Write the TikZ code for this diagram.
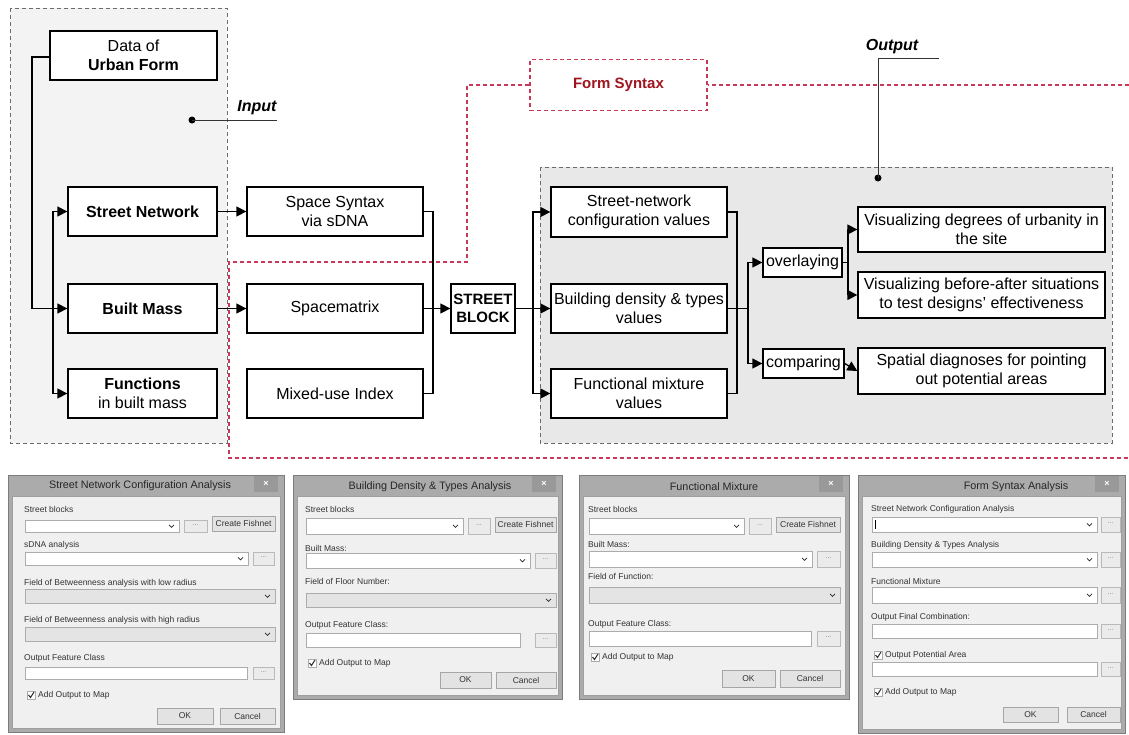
\documentclass[tikz,border=0pt]{standalone}
\usepackage{fontspec}
\setmainfont{Liberation Sans}
\usetikzlibrary{arrows.meta}
\definecolor{reddash}{HTML}{C8385A}
\definecolor{fsred}{HTML}{A0141E}
\definecolor{inbg}{HTML}{F3F3F3}
\definecolor{outbg}{HTML}{E8E8E8}
\definecolor{framec}{HTML}{ABABAB}
\definecolor{framedk}{HTML}{7C7C7C}
\definecolor{bodyc}{HTML}{F0F0F0}
\definecolor{dtxt}{HTML}{333333}
\definecolor{closebg}{HTML}{999999}
\definecolor{gfield}{HTML}{E4E4E4}
\definecolor{btnc}{HTML}{E3E3E3}

\newcommand{\rsWin}[5]{%
  \fill[framec] (#2,#3) rectangle (#4,#5);
  \draw[framedk, line width=0.6pt] (#2,#3) rectangle (#4,#5);
  \fill[bodyc] (#2+4,#3+21) rectangle (#4-4,#5-4);
  \draw[gray!75, line width=0.4pt] (#2+4,#3+21) rectangle (#4-4,#5-4);
  \fill[closebg] (#4-30,#3+1) rectangle (#4-6,#3+17);
  \node[text=white, inner sep=0pt, font=\fontsize{9}{9}\selectfont\bfseries] (#1) at (#4-18,#3+9) {×};
}
\newcommand{\rsLab}[4]{\node[dlab] (#1) at (#2,#3) {#4};}
\newcommand{\rsCombo}[4]{%
  \draw[field] (#1,#2) rectangle (#3,#4);
  \draw[chev] (#3-10,{(#2+#4)/2-1.2}) -- (#3-7.5,{(#2+#4)/2+1.3}) -- (#3-5,{(#2+#4)/2-1.2});
}
\newcommand{\rsGCombo}[4]{%
  \draw[field, fill=gfield] (#1,#2) rectangle (#3,#4);
  \draw[chev] (#3-10,{(#2+#4)/2-1.2}) -- (#3-7.5,{(#2+#4)/2+1.3}) -- (#3-5,{(#2+#4)/2-1.2});
}
\newcommand{\rsTextBox}[4]{\draw[field] (#1,#2) rectangle (#3,#4);}
\newcommand{\rsDots}[5]{%
  \draw[dotbtn] (#2,#3) rectangle (#4,#5);
  \node[dotstxt] (#1) at ({(#2+#4)/2},{(#3+#5)/2-1}) {...};
}
\newcommand{\rsBtn}[6]{%
  \draw[btn] (#2,#3) rectangle (#4,#5);
  \node[btntxt] (#1) at ({(#2+#4)/2},{(#3+#5)/2}) {#6};
}
\newcommand{\rsCheck}[4]{%
  \draw[field, fill=white] (#2,#3-4) rectangle (#2+8,#3+4);
  \draw[line width=1pt, black!85] (#2+1.5,#3) -- (#2+3.5,#3+2.5) -- (#2+7,#3-3);
  \node[dlab] (#1) at (#2+11,#3) {#4};
}

\begin{document}
\begin{tikzpicture}[x=1pt,y=-1pt,
  box/.style={draw, line width=1.3pt, fill=white, align=center, inner sep=0pt,
     font=\fontsize{16}{19}\selectfont},
  conn/.style={line width=1.3pt, black},
  arr/.style={conn, -{Triangle[length=10pt,width=10pt]}},
  region/.style={draw=gray!85!black, line width=0.8pt, dash pattern=on 4pt off 3pt},
  rdash/.style={draw=reddash, line width=1.2pt, dash pattern=on 4pt off 3pt},
  dot/.style={circle, fill=black, inner sep=0pt, minimum size=7pt},
  ptr/.style={line width=0.9pt, gray!40!black},
  lab/.style={font=\fontsize{16}{18}\selectfont\bfseries\itshape, inner sep=0pt},
  dlab/.style={anchor=west, inner sep=0pt, font=\fontsize{8.5}{9}\selectfont, text=dtxt},
  dtitle/.style={inner sep=0pt, font=\fontsize{10.8}{11}\selectfont, text=black!85},
  field/.style={draw=gray!65, line width=0.5pt, fill=white},
  chev/.style={line width=0.7pt, gray!30!black},
  dotbtn/.style={draw=gray!55, line width=0.5pt, fill=btnc!70!white},
  dotstxt/.style={inner sep=0pt, font=\fontsize{7}{7}\selectfont, text=gray},
  btn/.style={draw=gray!70, line width=0.6pt, fill=btnc},
  btntxt/.style={inner sep=0pt, font=\fontsize{8.5}{9}\selectfont, text=dtxt}
]
\fill[white] (0,0) rectangle (1129,734);
\useasboundingbox (0,0) rectangle (1129,734);

% regions
\draw[region, fill=inbg] (10,8) rectangle (227,443);
\draw[region, fill=outbg] (540,167) rectangle (1112,443);

% form syntax (red)
\node[rdash, minimum width=177pt, minimum height=51pt, inner sep=0pt,
  font=\fontsize{15}{17}\selectfont\bfseries, text=fsred] (fs) at (618.5,85) {Form Syntax};
\coordinate (rA) at (1129,85);
\coordinate (rB) at (467,85);
\coordinate (rC) at (467,262);
\coordinate (rD) at (229,262);
\coordinate (rE) at (229,458);
\coordinate (rF) at (1129,458);
\draw[rdash] (rA) -- (fs.east);
\draw[rdash] (fs.west) -- (rB) -- (rC) -- (rD) -- (rE) -- (rF);

% input / output labels
\node[dot] (indot) at (192,120) {};
\coordinate (inend) at (277,120);
\draw[ptr] (indot.center) -- (inend);
\node[lab] (inlab) at (257,108) {Input};
\node[dot] (outdot) at (878,178) {};
\coordinate (outc) at (878,58);
\coordinate (outend) at (939,58);
\draw[ptr] (outdot.center) -- (outc) -- (outend);
\node[lab] (outlab) at (892,47) {Output};

% input column
\node[box, minimum width=167pt, minimum height=49pt] (data) at (133.5,55.5) {Data of\\\textbf{Urban Form}};
\node[box, minimum width=149pt, minimum height=49pt] (sn) at (142.5,211.5) {\textbf{Street Network}};
\node[box, minimum width=149pt, minimum height=49pt] (bm) at (142.5,308.5) {\textbf{Built Mass}};
\node[box, minimum width=149pt, minimum height=49pt] (fn) at (142.5,393.5) {\textbf{Functions}\\in built mass};

% methods column
\node[box, minimum width=176pt, minimum height=49pt] (ss) at (335,211.5) {Space Syntax\\via sDNA};
\node[box, minimum width=176pt, minimum height=49pt] (sm) at (335,308.5) {Spacematrix};
\node[box, minimum width=176pt, minimum height=49pt] (mu) at (335,393.5) {Mixed-use Index};
\node[box, minimum width=64pt, minimum height=49pt, font=\fontsize{15}{18}\selectfont] (sb) at (483,308.5) {\textbf{STREET}\\\textbf{BLOCK}};

% values column
\node[box, minimum width=176pt, minimum height=50pt] (snv) at (639,212) {Street-network\\configuration values};
\node[box, minimum width=176pt, minimum height=49pt] (bdv) at (639,308.5) {Building density \& types\\values};
\node[box, minimum width=176pt, minimum height=49pt] (fmv) at (639,393.5) {Functional mixture\\values};
\node[box, minimum width=79pt, minimum height=29pt] (ov) at (802.5,262.5) {overlaying};
\node[box, minimum width=81pt, minimum height=29pt] (cmp) at (803.5,363.5) {comparing};
\node[box, minimum width=247pt, minimum height=45pt] (v1) at (981.5,229.5) {Visualizing degrees of urbanity in\\the site};
\node[box, minimum width=247pt, minimum height=46pt] (v2) at (981.5,295) {Visualizing before-after situations\\to test designs' effectiveness};
\node[box, minimum width=247pt, minimum height=46pt] (sd) at (981.5,371) {Spatial diagnoses for pointing\\out potential areas};

% connectors
\coordinate (j0) at (32,57);
\coordinate (j1) at (53,308.5);
\draw[arr] (data.west |- j0) -- (j0) |- (bm.west);
\draw[arr] (j1) |- (sn.west);
\draw[arr] (j1) |- (fn.west);
\draw[arr] (sn.east) -- (ss.west);
\draw[arr] (bm.east) -- (sm.west);
\coordinate (j2) at (433,308.5);
\draw[conn] (ss.east) -| (j2);
\draw[conn] (mu.east) -| (j2);
\draw[arr] (sm.east) -- (sb.west);
\coordinate (j3) at (533,308.5);
\draw[conn] (sb.east) -- (j3);
\draw[arr] (j3) |- (snv.west);
\draw[arr] (j3) |- (fmv.west);
\draw[arr] (j3) -- (bdv.west);
\coordinate (j4) at (737,308.5);
\draw[conn] (snv.east) -| (j4);
\draw[conn] (fmv.east) -| (j4);
\coordinate (j5) at (748,308.5);
\draw[conn] (bdv.east) -- (j5);
\draw[arr] (j5) |- (ov.west);
\draw[arr] (j5) |- (cmp.west);
\coordinate (j6) at (848,262.5);
\draw[conn] (ov.east) -- (j6);
\draw[arr] (j6) |- (v1.west);
\draw[arr] (j6) |- (v2.west);
\draw[arr] (cmp.east) -- (sd.west);

% ---------- dialog 1 ----------
\rsWin{d1x}{8}{475}{284}{732}
\node[dtitle] (d1t) at (140,486) {Street Network Configuration Analysis};
\rsLab{d1a}{24}{509}{Street blocks}
\rsCombo{25}{520}{179}{532}
\rsDots{d1b}{184}{520}{207}{532}
\rsBtn{d1c}{212}{516}{275}{531}{Create Fishnet}
\rsLab{d1d}{24}{545}{sDNA analysis}
\rsCombo{25}{552}{248}{565}
\rsDots{d1e}{253}{552}{274}{565}
\rsLab{d1f}{24}{583}{Field of Betweenness analysis with low radius}
\rsGCombo{25}{589}{275}{603}
\rsLab{d1g}{24}{620}{Field of Betweenness analysis with high radius}
\rsGCombo{25}{627}{275}{641}
\rsLab{d1h}{24}{658}{Output Feature Class}
\rsTextBox{25}{667}{247}{679}
\rsDots{d1i}{253}{667}{274}{679}
\rsCheck{d1j}{27}{695}{Add Output to Map}
\rsBtn{d1k}{157}{708}{213}{724}{OK}
\rsBtn{d1l}{220}{708}{275}{724}{Cancel}

% ---------- dialog 2 ----------
\rsWin{d2x}{293}{475}{562}{699}
\node[dtitle] (d2t) at (430,487) {Building Density \& Types Analysis};
\rsLab{d2a}{305}{509}{Street blocks}
\rsCombo{306}{518}{463}{534}
\rsDots{d2b}{468}{518}{490}{534}
\rsBtn{d2c}{495}{517}{556}{532}{Create Fishnet}
\rsLab{d2d}{305}{548}{Built Mass:}
\rsCombo{306}{553}{530}{568}
\rsDots{d2e}{535}{553}{556}{568}
\rsLab{d2f}{305}{581}{Field of Floor Number:}
\rsGCombo{306}{593}{556}{607}
\rsLab{d2g}{305}{625}{Output Feature Class:}
\rsTextBox{306}{633}{520}{647}
\rsDots{d2h}{535}{633}{556}{647}
\rsCheck{d2i}{308}{663}{Add Output to Map}
\rsBtn{d2j}{440}{672}{491}{688}{OK}
\rsBtn{d2k}{496}{672}{556}{688}{Cancel}

% ---------- dialog 3 ----------
\rsWin{d3x}{579}{475}{849}{699}
\node[dtitle] (d3t) at (714,487) {Functional Mixture};
\rsLab{d3a}{588}{509}{Street blocks}
\rsCombo{589}{518}{744}{534}
\rsDots{d3b}{749}{518}{771}{534}
\rsBtn{d3c}{776}{517}{840}{532}{Create Fishnet}
\rsLab{d3d}{588}{544}{Built Mass:}
\rsCombo{589}{551}{812}{567}
\rsDots{d3e}{817}{551}{840}{567}
\rsLab{d3f}{588}{576}{Field of Function:}
\rsGCombo{589}{587}{840}{603}
\rsLab{d3g}{588}{624}{Output Feature Class:}
\rsTextBox{589}{631}{811}{646}
\rsDots{d3h}{817}{631}{840}{646}
\rsCheck{d3i}{591}{657}{Add Output to Map}
\rsBtn{d3j}{722}{670}{775}{687}{OK}
\rsBtn{d3k}{780}{670}{840}{687}{Cancel}

% ---------- dialog 4 ----------
\rsWin{d4x}{858}{475}{1125}{733}
\node[dtitle] (d4t) at (1016,487) {Form Syntax Analysis};
\rsLab{d4a}{871}{509}{Street Network Configuration Analysis}
\rsCombo{872}{517}{1097}{532}
\draw[line width=0.5pt] (875,520) -- (875,529);
\rsDots{d4b}{1101}{517}{1120}{532}
\rsLab{d4c}{871}{545}{Building Density \& Types Analysis}
\rsCombo{872}{552}{1097}{567}
\rsDots{d4d}{1101}{552}{1120}{567}
\rsLab{d4e}{871}{581}{Functional Mixture}
\rsCombo{872}{587}{1097}{603}
\rsDots{d4f}{1101}{587}{1120}{603}
\rsLab{d4g}{871}{617}{Output Final Combination:}
\rsTextBox{872}{624}{1097}{638}
\rsDots{d4h}{1101}{624}{1120}{638}
\rsCheck{d4i}{874}{655}{Output Potential Area}
\rsTextBox{872}{662}{1097}{676}
\rsDots{d4j}{1101}{662}{1120}{676}
\rsCheck{d4k}{874}{692}{Add Output to Map}
\rsBtn{d4l}{1003}{707}{1058}{722}{OK}
\rsBtn{d4m}{1067}{707}{1120}{722}{Cancel}
\end{tikzpicture}
\end{document}
